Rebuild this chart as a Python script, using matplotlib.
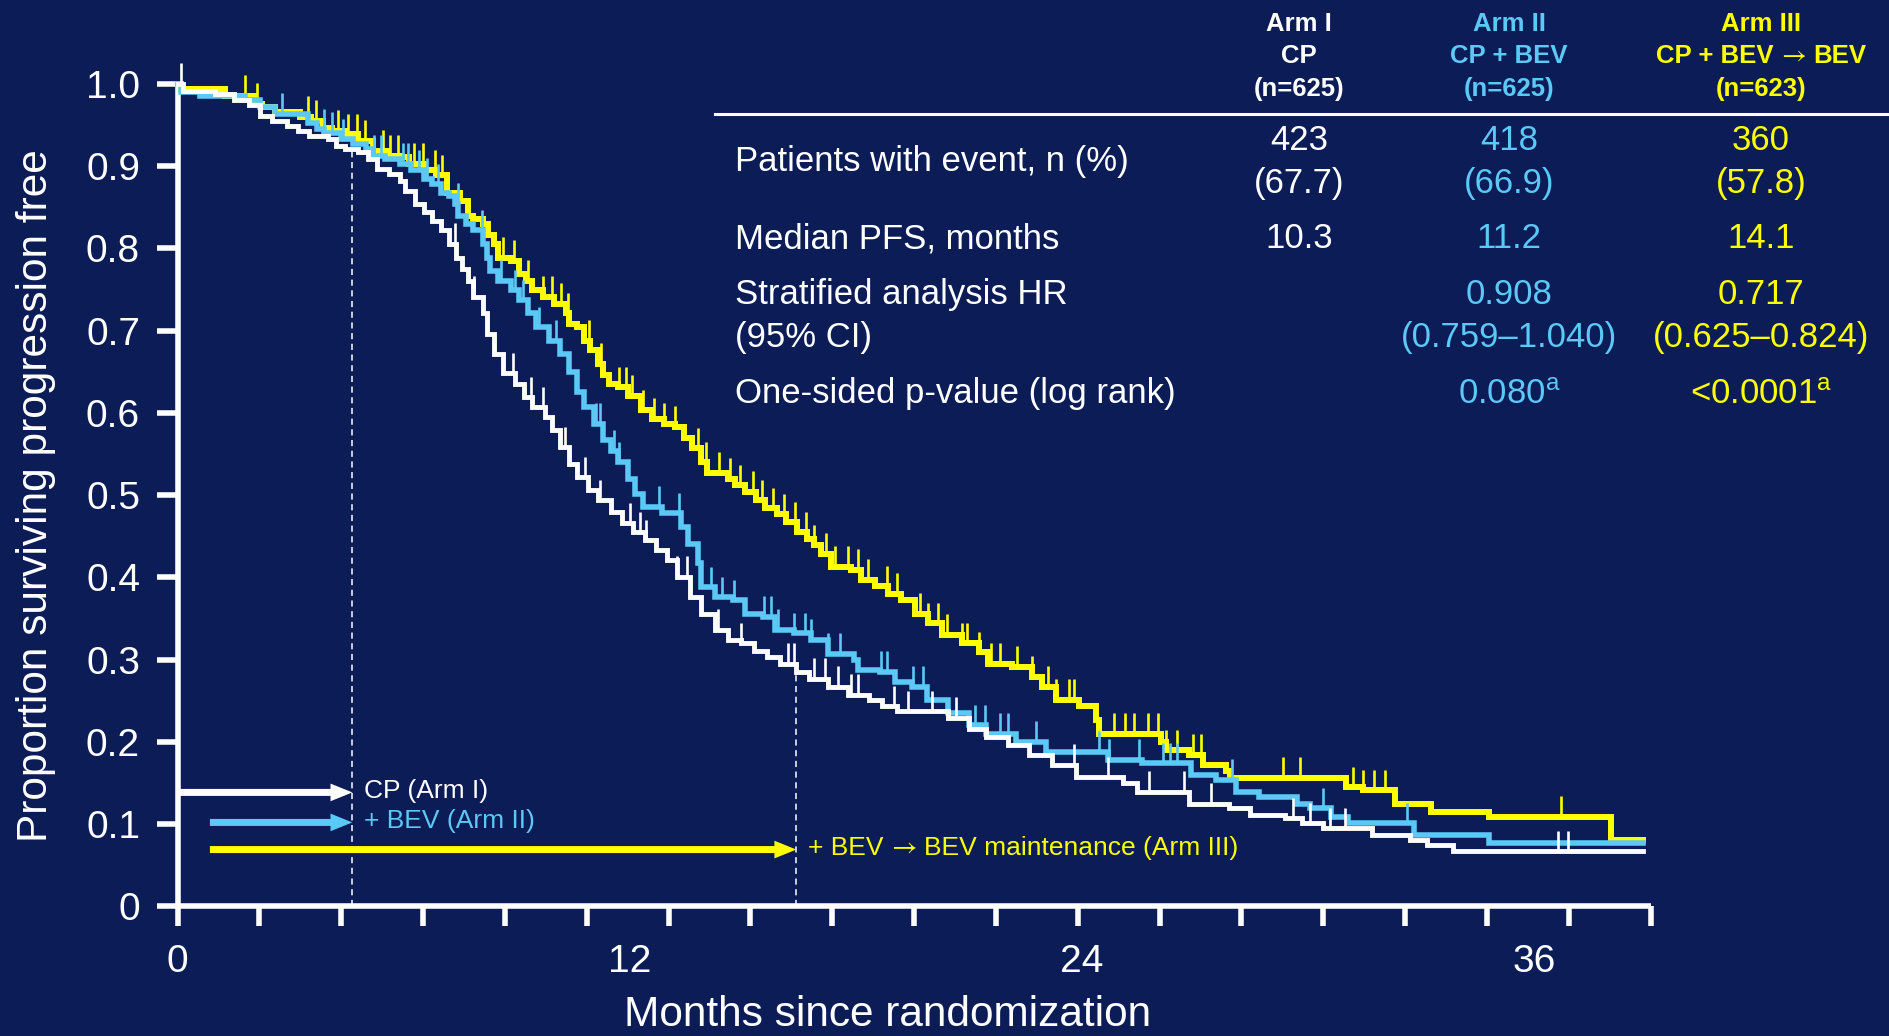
import numpy as np
import matplotlib
matplotlib.use('Agg')
import matplotlib.pyplot as plt
from matplotlib.lines import Line2D
from matplotlib.offsetbox import TextArea, HPacker, AnnotationBbox

W, H = 1889, 1036
BG = '#0b1c57'
WHITE = '#ffffff'
BLUE = '#5bc8f5'
YELLOW = '#ffff00'

plt.rcParams['font.family'] = ['Liberation Sans', 'DejaVu Sans']
plt.rcParams['mathtext.fontset'] = 'custom'
plt.rcParams['mathtext.rm'] = 'Liberation Sans'
plt.rcParams['mathtext.it'] = 'Liberation Sans:italic'
plt.rcParams['mathtext.bf'] = 'Liberation Sans:bold'

# ---------------- data (months, proportion progression free) ----------------
arm1_t = [0.15, 1.0, 1.5, 1.9, 2.2, 2.5, 2.9, 3.2, 3.5, 4.0, 4.2, 4.45, 4.8, 5.05, 5.3, 5.6,
          5.9, 6.05, 6.3, 6.55, 6.75, 7.0, 7.2, 7.4, 7.55, 7.7, 7.85, 8.1, 8.2, 8.4, 8.65,
          8.95, 9.2, 9.4, 9.75, 9.95, 10.15, 10.4, 10.6, 10.9, 11.15, 11.5, 11.8, 12.1,
          12.4, 12.7, 13.0, 13.25, 13.6, 13.9, 14.25, 14.6, 14.95, 15.3, 15.65, 16.0, 16.4,
          16.75, 17.25, 17.8, 18.35, 18.7, 19.1, 20.45, 21.0, 21.45, 22.05, 22.6, 23.2,
          23.85, 25.1, 25.45, 26.85, 27.9, 28.45, 29.4, 29.85, 30.4, 31.7, 32.7, 33.15, 33.85]
arm1_s = [0.992, 0.988, 0.980, 0.974, 0.961, 0.955, 0.949, 0.943, 0.937, 0.933, 0.925, 0.921,
          0.917, 0.909, 0.897, 0.891, 0.882, 0.870, 0.854, 0.844, 0.834, 0.822, 0.806, 0.789,
          0.775, 0.761, 0.741, 0.721, 0.696, 0.672, 0.648, 0.635, 0.619, 0.607, 0.595, 0.579,
          0.558, 0.538, 0.522, 0.506, 0.494, 0.479, 0.466, 0.455, 0.445, 0.433, 0.421, 0.401,
          0.376, 0.356, 0.336, 0.324, 0.320, 0.311, 0.303, 0.295, 0.285, 0.277, 0.267, 0.257,
          0.251, 0.243, 0.237, 0.229, 0.216, 0.206, 0.196, 0.184, 0.172, 0.157, 0.150, 0.139,
          0.125, 0.119, 0.111, 0.107, 0.101, 0.095, 0.087, 0.081, 0.075, 0.067]
arm1_cens = [0.1, 7.37, 7.86, 8.91, 9.38, 9.71, 10.28, 10.81, 11.22, 12.01, 12.28, 12.43, 13.25,
             13.53, 14.33, 14.95, 16.19, 16.37, 16.9, 17.17, 17.53, 17.88, 18.06, 19.0, 19.39,
             20.01, 20.67, 23.8, 24.68, 25.79, 26.71, 27.42, 29.6, 30.05, 30.58, 30.97,
             36.62, 36.89]

arm2_t = [0.1, 0.6, 1.8, 2.2, 2.6, 3.45, 3.7, 3.9, 4.35, 4.65, 5.0, 5.2, 5.5, 5.9, 6.2, 6.55,
          6.75, 7.0, 7.2, 7.37, 7.45, 7.65, 7.85, 8.1, 8.2, 8.3, 8.5, 8.85, 9.05, 9.3, 9.5,
          9.85, 10.15, 10.4, 10.6, 10.8, 11.05, 11.3, 11.5, 11.7, 11.95, 12.15, 12.35, 12.85,
          13.35, 13.55, 13.8, 13.9, 14.25, 14.75, 15.05, 15.55, 15.85, 16.35, 16.8, 17.25,
          17.95, 18.05, 18.65, 19.05, 19.5, 19.9, 20.45, 21.0, 21.45, 22.25, 23.05, 24.7,
          25.6, 26.9, 27.55, 28.1, 28.7, 29.7, 30.05, 30.6, 31.05, 32.8, 34.8]
arm2_s = [0.990, 0.986, 0.980, 0.972, 0.964, 0.953, 0.945, 0.941, 0.933, 0.927, 0.921, 0.913,
          0.909, 0.903, 0.895, 0.885, 0.878, 0.868, 0.864, 0.854, 0.840, 0.830, 0.822, 0.806,
          0.789, 0.773, 0.761, 0.749, 0.737, 0.721, 0.704, 0.688, 0.672, 0.650, 0.625, 0.607,
          0.587, 0.567, 0.554, 0.540, 0.520, 0.502, 0.486, 0.478, 0.461, 0.441, 0.417, 0.388,
          0.376, 0.372, 0.356, 0.352, 0.336, 0.332, 0.324, 0.307, 0.299, 0.287, 0.285, 0.273,
          0.267, 0.251, 0.235, 0.220, 0.210, 0.200, 0.188, 0.178, 0.174, 0.160, 0.154, 0.139,
          0.133, 0.125, 0.119, 0.109, 0.101, 0.087, 0.077]
arm2_cens = [2.78, 3.88, 4.1, 4.4, 5.22, 5.39, 5.99, 6.12, 6.41, 6.63, 6.91, 7.44, 8.08, 8.58,
             8.96, 9.16, 9.6, 10.04, 11.11, 11.22, 11.57, 11.71, 12.79, 13.31, 14.15, 14.45,
             14.77, 15.57, 15.75, 15.93, 16.37, 16.64, 16.82, 17.26, 17.58, 18.68, 18.82, 19.53,
             19.78, 21.17, 21.43, 21.82, 22.05, 22.77, 24.45, 24.72, 25.52, 26.14, 26.35, 26.53,
             27.97, 30.4, 32.62]

arm3_t = [0.1, 1.25, 2.05, 2.25, 2.6, 3.25, 3.55, 3.85, 4.1, 4.45, 4.8, 5.2, 5.55, 5.9, 6.15,
          6.55, 6.85, 7.15, 7.5, 7.7, 7.85, 8.1, 8.25, 8.4, 8.5, 8.85, 9.05, 9.25, 9.4, 9.7,
          10.0, 10.3, 10.4, 10.6, 10.8, 10.95, 11.15, 11.3, 11.45, 11.7, 11.95, 12.3, 12.6,
          12.9, 13.2, 13.45, 13.65, 13.9, 14.05, 14.6, 14.8, 15.05, 15.35, 15.6, 15.9, 16.15,
          16.45, 16.7, 16.9, 17.08, 17.35, 17.88, 18.15, 18.5, 18.86, 19.21, 19.57, 19.92,
          20.28, 20.81, 21.26, 21.52, 22.14, 22.68, 22.94, 23.3, 23.92, 24.36, 24.45, 26.1,
          26.23, 26.85, 27.21, 27.83, 27.92, 31.0, 31.47, 32.3, 33.25, 34.8, 38.04]
arm3_s = [0.994, 0.986, 0.976, 0.972, 0.966, 0.960, 0.955, 0.947, 0.943, 0.939, 0.931, 0.919,
          0.913, 0.911, 0.903, 0.895, 0.889, 0.868, 0.858, 0.840, 0.836, 0.830, 0.816, 0.806,
          0.789, 0.785, 0.769, 0.761, 0.749, 0.741, 0.733, 0.721, 0.708, 0.704, 0.688, 0.676,
          0.660, 0.646, 0.635, 0.631, 0.621, 0.603, 0.593, 0.587, 0.583, 0.570, 0.557, 0.540,
          0.527, 0.520, 0.512, 0.504, 0.494, 0.484, 0.477, 0.467, 0.455, 0.447, 0.439, 0.429,
          0.413, 0.409, 0.397, 0.389, 0.380, 0.372, 0.356, 0.344, 0.330, 0.320, 0.309, 0.295,
          0.291, 0.279, 0.267, 0.251, 0.243, 0.226, 0.210, 0.200, 0.190, 0.184, 0.172, 0.164,
          0.156, 0.145, 0.141, 0.125, 0.115, 0.109, 0.081]
arm3_cens = [1.79, 2.11, 3.46, 3.68, 4.25, 4.52, 4.75, 4.98, 5.44, 5.64, 5.86, 6.27, 6.51, 6.82,
             7.02, 7.18, 8.63, 8.92, 9.29, 9.71, 9.95, 10.17, 10.37, 10.92, 11.25, 11.71, 11.9,
             12.06, 12.34, 12.65, 12.92, 13.2, 13.8, 14.02, 14.37, 14.66, 14.93, 15.26, 15.5,
             15.8, 16.09, 16.39, 16.69, 16.9, 17.21, 17.44, 17.79, 18.06, 18.33, 18.82, 19.09,
             19.71, 19.92, 20.19, 20.42, 20.81, 20.95, 21.26, 21.58, 21.82, 22.27, 22.68, 23.09,
             23.3, 23.65, 23.8, 24.86, 25.13, 25.39, 25.75, 26.02, 26.23, 26.53, 26.94, 27.15,
             29.34, 29.79, 31.2, 31.47, 31.74, 32.04, 36.71]

t_end = 38.9          # last follow-up shown (months)
cp_end = 4.64         # end of CP chemotherapy phase (months)
bev_end = 16.42       # end of BEV maintenance phase (months)

x_label_vals = [0, 12, 24, 36]
x_label_text = ['0', '12', '24', '36']
y_ticks = [0, 0.1, 0.2, 0.3, 0.4, 0.5, 0.6, 0.7, 0.8, 0.9, 1.0]
y_ticklabels = ['0', '0.1', '0.2', '0.3', '0.4', '0.5', '0.6', '0.7', '0.8', '0.9', '1.0']

arms = ['Arm I', 'Arm II', 'Arm III']
regimens = [['CP'], ['CP + BEV'], ['CP + BEV', '\u2192', 'BEV']]
n_pat = [625, 625, 623]
events = [423, 418, 360]
events_pct = ['67.7', '66.9', '57.8']
median_pfs = ['10.3', '11.2', '14.1']
hr = ['', '0.908', '0.717']
hr_ci = ['', '(0.759\u20131.040)', '(0.625\u20130.824)']
p_val = ['', '0.080', '<0.0001']
row_labels = ['Patients with event, n (%)', 'Median PFS, months',
              'Stratified analysis HR', '(95% CI)', 'One-sided p-value (log rank)']
arrow_labels = [['CP (Arm I)'], ['+ BEV (Arm II)'],
                ['+ BEV', '\u2192', 'BEV maintenance (Arm III)']]

colors = [WHITE, BLUE, YELLOW]

# ---------------- figure ----------------
fig = plt.figure(figsize=(W / 100, H / 100), dpi=100, facecolor=BG)
y0px, y1px = 906.3, 84.0     # pixel rows of 0 and 1.0
ytop = 1.0
x0px, xendpx = 177.5, 1650.6
xmax = 39.09
ax = fig.add_axes([x0px / W, (H - y0px) / H, (xendpx - x0px) / W, (y0px - y1px) / H])
ax.set_facecolor(BG)
ax.set_xlim(0, xmax)
ax.set_ylim(0, ytop)

for sp in ['top', 'right']:
    ax.spines[sp].set_visible(False)
for sp in ['left', 'bottom']:
    ax.spines[sp].set_color(WHITE)
    ax.spines[sp].set_linewidth(4.0)
    ax.spines[sp].set_capstyle('butt')

ax.xaxis.remove_overlapping_locs = False
ax.set_xticks(np.linspace(0, xmax, 19))
ax.set_xticklabels([''] * 19)
ax.set_xticks(x_label_vals, minor=True)
ax.set_xticklabels(x_label_text, minor=True)
ax.tick_params(axis='x', which='major', direction='out', length=14.5, width=4.0, color=WHITE)
ax.tick_params(axis='x', which='minor', length=0, pad=27, labelsize=28, labelcolor=WHITE)
ax.set_yticks(y_ticks)
ax.set_yticklabels(y_ticklabels)
ax.tick_params(axis='y', direction='out', length=15, width=4.0, color=WHITE, pad=12,
               labelsize=28, labelcolor=WHITE)


def km_value(ts, ss, x):
    tt = np.r_[0.0, ts]
    sv = np.r_[1.0, ss]
    idx = np.searchsorted(tt, x, side='right') - 1
    return sv[idx]


curves = [(arm1_t, arm1_s, arm1_cens, 3.5, 5),
          (arm2_t, arm2_s, arm2_cens, 4.0, 4),
          (arm3_t, arm3_s, arm3_cens, 4.3, 3)]
for (ts, ss, cs, lw, z), col in zip(curves, colors):
    tt = np.r_[0.0, ts, t_end]
    sv = np.r_[1.0, ss, ss[-1]]
    ax.step(tt, sv, where='post', color=col, lw=lw, zorder=z, solid_joinstyle='miter',
            clip_on=False)
    cv = km_value(ts, ss, np.array(cs))
    ax.vlines(cs, cv, cv + 0.025, color=col, lw=1.9, zorder=z, clip_on=False)

# treatment phase markers
dash = (0, (4, 3))
for tx in [cp_end, bev_end]:
    ax.vlines(tx, 0, km_value(arm1_t, arm1_s, tx), colors=WHITE, lw=1.1, linestyles=dash, zorder=2)


def mixed_text(parts, xy, coords, col, size, weight='normal', align=(0.5, 0.5)):
    children = []
    for p in parts:
        if p == '\u2192':
            tp = dict(color=col, fontsize=size * 1.05, family='STIXGeneral', fontweight='normal')
        else:
            tp = dict(color=col, fontsize=size, fontweight=weight,
                      family=['Liberation Sans', 'DejaVu Sans'])
        children.append(TextArea(p, textprops=tp))
    box = HPacker(children=children, align='baseline', pad=0, sep=size * 0.28)
    ab = AnnotationBbox(box, xy, xycoords=coords, box_alignment=align, frameon=False, pad=0,
                        annotation_clip=False)
    return ab


arrow_y = [0.1385, 0.102, 0.069]
arrow_x0 = [0.0, 0.86, 0.86]
arrow_x1 = [cp_end, cp_end, bev_end]
for lab, ay, xa, xb, col in zip(arrow_labels, arrow_y, arrow_x0, arrow_x1, colors):
    ax.arrow(xa, ay, xb - xa, 0, width=0.0085, head_width=0.0215, head_length=0.58,
             length_includes_head=True, fc=col, ec='none', zorder=6, clip_on=False)
    ab = mixed_text(lab, (xb + 0.32, ay), 'data', col, 19, align=(0.0, 0.45))
    ab.set_zorder(6)
    ax.add_artist(ab)

# axis titles
fig.text(888 / W, 1 - 1015 / H, 'Months since randomization', color=WHITE, fontsize=30.5,
         ha='center', va='center')
fig.text(36 / W, 1 - 496 / H, 'Proportion surviving progression free', color=WHITE,
         fontsize=30.5, ha='center', va='center', rotation=90)

# ---------------- table ----------------
col_x = [1299, 1509, 1761]


def ftxt(x, y, s, col, size=25, weight='normal', ha='center'):
    fig.text(x / W, 1 - y / H, s, color=col, fontsize=size, fontweight=weight,
             ha=ha, va='center')


for i, col in enumerate(colors):
    ftxt(col_x[i], 24, arms[i], col, 18.5, 'bold')
    fig.add_artist(mixed_text(regimens[i], (col_x[i], H - 56), 'figure pixels', col, 18.5,
                              'bold'))
    ftxt(col_x[i], 89, '(n=%d)' % n_pat[i], col, 18.5, 'bold')
    ftxt(col_x[i], 141, str(events[i]), col)
    ftxt(col_x[i], 184, '(%s)' % events_pct[i], col)
    ftxt(col_x[i], 239, median_pfs[i], col)
    if hr[i]:
        ftxt(col_x[i], 295, hr[i], col)
        ftxt(col_x[i], 338, hr_ci[i], col)
        ftxt(col_x[i], 394, p_val[i] + r'$^{\mathrm{a}}$', col)

fig.add_artist(Line2D([715 / W, 1.0], [1 - 114 / H, 1 - 114 / H], color=WHITE, lw=2.2))

lab_x = 735
for lab, yy in zip(row_labels, [162, 239, 295, 338, 394]):
    ftxt(lab_x, yy, lab, WHITE, ha='left')

fig.savefig('out.png', dpi=100, facecolor=BG)
